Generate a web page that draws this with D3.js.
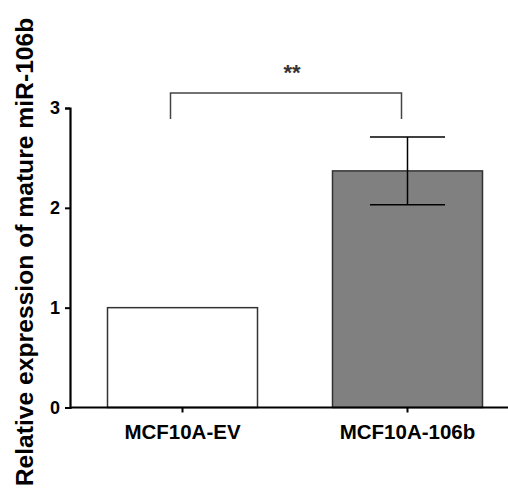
<!DOCTYPE html>
<html>
<head>
<meta charset="utf-8">
<script src="https://cdn.jsdelivr.net/npm/d3@7"></script>
<style>
  body { margin: 0; background: #fff; }
  text { font-family: Arial, "Liberation Sans", sans-serif; }
</style>
</head>
<body>
<script>
var groups = ["MCF10A-EV", "MCF10A-106b"];
var means = [1.0, 2.37];
var errs = [0, 0.34];
var fills = ["#ffffff", "#808080"];
var yTicks = [0, 1, 2, 3];
var sigLabel = "**";
var yLabel = "Relative expression of mature miR-106b";

var w = 508,
    h = 488;

var svg = d3.select("body").append("svg")
    .attr("width", w)
    .attr("height", h);

var x = d3.scaleBand()
    .domain(groups)
    .range([70, 520])
    .paddingInner(1 / 3)
    .paddingOuter(1 / 6);

var y = d3.scaleLinear()
    .domain([0, 3])
    .range([407.5, 108]);

// bars
svg.selectAll(".bar")
    .data(groups)
    .enter().append("rect")
    .attr("class", "bar")
    .attr("x", function(d) { return x(d); })
    .attr("y", function(d, i) { return y(means[i]); })
    .attr("width", x.bandwidth())
    .attr("height", function(d, i) { return y(0) - y(means[i]); })
    .attr("fill", function(d, i) { return fills[i]; })
    .attr("stroke", "#333")
    .attr("stroke-width", 1.5);

// error bars
var capW = x.bandwidth() / 2;
groups.forEach(function(g, i) {
    if (!errs[i]) return;
    var cx = x(g) + x.bandwidth() / 2;
    var eb = svg.append("g").attr("stroke", "#000").attr("stroke-width", 1.5);
    eb.append("line")
        .attr("x1", cx).attr("x2", cx)
        .attr("y1", y(means[i] + errs[i])).attr("y2", y(means[i] - errs[i]));
    [means[i] + errs[i], means[i] - errs[i]].forEach(function(v) {
        eb.append("line")
            .attr("x1", cx - capW / 2).attr("x2", cx + capW / 2)
            .attr("y1", y(v)).attr("y2", y(v));
    });
});

// axes
var yAxis = svg.append("g")
    .attr("transform", "translate(70,0)")
    .call(d3.axisLeft(y).tickValues(yTicks).tickFormat(d3.format("d")).tickSize(5).tickPadding(5));

var xAxis = svg.append("g")
    .attr("transform", "translate(0," + y(0) + ")")
    .call(d3.axisBottom(x).tickSize(5).tickPadding(12));

xAxis.select(".domain").attr("d", "M70,0H508");

svg.selectAll(".domain").attr("stroke", "#000").attr("stroke-width", 2.2);
svg.selectAll(".tick line").attr("stroke", "#000").attr("stroke-width", 2);
yAxis.attr("font-size", 18);
yAxis.selectAll("text")
    .attr("font-weight", "bold")
    .attr("font-family", "Arial, 'Liberation Sans', sans-serif")
    .attr("fill", "#000");
xAxis.attr("font-size", 20.5);
xAxis.selectAll("text")
    .attr("font-weight", "bold")
    .attr("font-family", "Arial, 'Liberation Sans', sans-serif")
    .attr("fill", "#000");

// significance bracket
var bx1 = x(groups[0]) + x.bandwidth() / 2 - 12,
    bx2 = x(groups[1]) + x.bandwidth() / 2 - 6,
    by = y(3.15),
    bLeg = y(2.89);
svg.append("path")
    .attr("d", "M" + bx1 + "," + bLeg + "V" + by + "H" + bx2 + "V" + bLeg)
    .attr("fill", "none")
    .attr("stroke", "#444")
    .attr("stroke-width", 1.5);

svg.append("text")
    .attr("x", (bx1 + bx2) / 2 + 6)
    .attr("y", by - 13)
    .attr("text-anchor", "middle")
    .attr("font-size", 22)
    .attr("font-weight", "bold")
    .attr("fill", "#333")
    .text(sigLabel);

// y label
var yl = svg.append("text")
    .attr("transform", "translate(33,252) rotate(-90)")
    .attr("text-anchor", "middle")
    .attr("font-size", 22)
    .attr("font-weight", "bold")
    .attr("fill", "#000")
    .text(yLabel);
var len = yl.node().getComputedTextLength();
yl.attr("font-size", 22 * 469 / len);
</script>
</body>
</html>
